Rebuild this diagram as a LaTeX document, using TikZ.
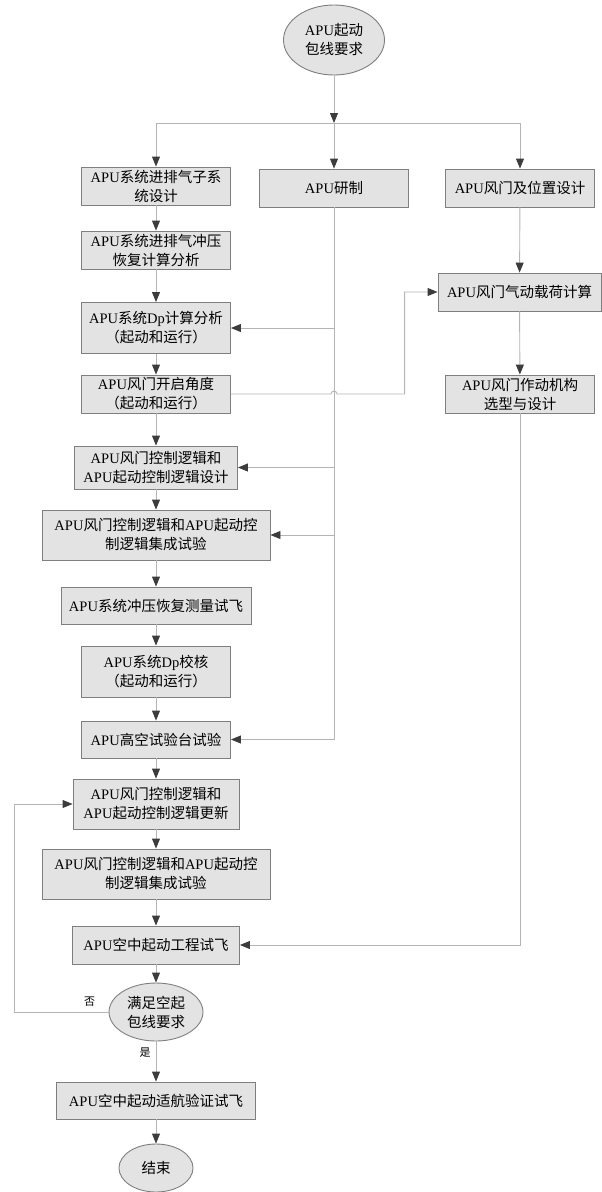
\documentclass[tikz,border=0pt]{standalone}
\usepackage{fontspec}
\setmainfont{Noto Sans CJK SC}
\newfontfamily\latin{Liberation Serif}
\usepackage{tikz}
\usetikzlibrary{shapes.geometric}
\usetikzlibrary{positioning}
\usetikzlibrary{arrows.meta}
\usetikzlibrary{calc}
\definecolor{boxfill}{HTML}{E3E3E3}
\definecolor{boxline}{HTML}{7F7F7F}
\definecolor{wire}{HTML}{B4B4B4}
\definecolor{tipgray}{HTML}{3C3C3C}
\newcommand{\apu}{{\latin APU}}

\begin{document}
\begin{tikzpicture}[
                    x=1pt, y=-1pt,
                    every node/.style={align=center, inner sep=0pt, font=\fontsize{14.5}{19}\selectfont},
                    stage/.style={rectangle, draw=boxline, line width=0.9pt, fill=boxfill, minimum width=149pt, minimum height=38pt},
                    oval/.style={ellipse, draw=boxline, line width=0.9pt, fill=boxfill},
                    note/.style={font=\fontsize{11}{13}\selectfont},
                    link/.style={draw=wire, line width=0.9pt},
                    flow/.style={link, -{Triangle[length=10pt, width=8pt, color=tipgray]}}
                ]
                \useasboundingbox (0,0) rectangle (602,1192);
                \node[oval, minimum width=101pt, minimum height=70pt] (start) at (334,40) {\apu 起动\\包线要求};
                \coordinate (split) at (334,123);
                \node[stage] (sub) at (156,186) {\apu 系统进排气子系\\统设计};
                \node[stage] (dev) at (334,188) {\apu 研制};
                \node[stage] (door) at (520,188) {\apu 风门及位置设计};
                \node[stage] (ram) at (156,250) {\apu 系统进排气冲压\\恢复计算分析};
                \node[stage, minimum width=163pt] (load) at (519.5,292) {\apu 风门气动载荷计算};
                \node[stage, minimum height=51pt] (dp) at (156,328) {\apu 系统{\latin Dp}计算分析\\（起动和运行）};
                \node[stage] (angle) at (156,394) {\apu 风门开启角度\\（起动和运行）};
                \node[stage] (act) at (520,394) {\apu 风门作动机构\\选型与设计};
                \node[stage, minimum width=163pt, minimum height=43pt] (logic) at (156,467.5) {\apu 风门控制逻辑和\\\apu 起动控制逻辑设计};
                \node[stage, minimum width=228pt, minimum height=50pt] (integ) at (156,535) {\apu 风门控制逻辑和\apu 起动控\\制逻辑集成试验};
                \node[stage, minimum width=190pt, minimum height=37pt] (ramfly) at (156,605.5) {\apu 系统冲压恢复测量试飞};
                \node[stage, minimum height=51pt] (dpchk) at (156,671.5) {\apu 系统{\latin Dp}校核\\（起动和运行）};
                \node[stage, minimum height=37pt] (alt) at (156,739.5) {\apu 高空试验台试验};
                \node[stage, minimum width=166pt, minimum height=50pt] (update) at (156,804) {\apu 风门控制逻辑和\\\apu 起动控制逻辑更新};
                \node[stage, minimum width=228pt, minimum height=50pt] (integb) at (156,874) {\apu 风门控制逻辑和\apu 起动控\\制逻辑集成试验};
                \node[stage, minimum width=167pt] (engfly) at (156,945) {\apu 空中起动工程试飞};
                \node[oval, minimum width=94pt, minimum height=58pt] (check) at (156,1012) {满足空起\\包线要求};
                \coordinate (back) at (14,1012);
                \node[stage, minimum width=199pt, minimum height=37pt] (cert) at (156,1100.5) {\apu 空中起动适航验证试飞};
                \node[oval, minimum width=74pt, minimum height=48pt] (finish) at (156,1168) {结束};

                \draw[flow] (start) -- (split);
                \draw[flow] (split) -| (sub);
                \draw[flow] (split) -- (dev);
                \draw[flow] (split) -| (door);
                \draw[flow] (sub) -- (ram);
                \draw[flow] (ram) -- (dp);
                \draw[flow] (dp) -- (angle);
                \draw[flow] (angle) -- (logic);
                \draw[flow] (logic) -- (integ);
                \draw[flow] (integ) -- (ramfly);
                \draw[flow] (ramfly) -- (dpchk);
                \draw[flow] (dpchk) -- (alt);
                \draw[flow] (alt) -- (update);
                \draw[flow] (update) -- (integb);
                \draw[flow] (integb) -- (engfly);
                \draw[flow] (engfly) -- (check);
                \draw[flow] (check) -- node[note, left=5pt, pos=0.27] (yes) {是} (cert);
                \draw[flow] (cert) -- (finish);
                \draw[flow] (check) -- node[note, above=5pt, pos=0.2] (no) {否} (back) |- (update);
                \draw[flow] (dev) |- (alt);
                \draw[flow] (dev |- dp) -- (dp);
                \draw[flow] (dev |- logic) -- (logic);
                \draw[flow] (dev |- integ) -- (integ);
                \draw[flow] (door) -- (load);
                \draw[flow] (load) -- (act);
                \draw[flow] (act) |- (engfly);
                \draw[flow] (angle) -- ($(dev |- angle)+(-3,0)$) to[out=90, in=90, looseness=1.6] ($(dev |- angle)+(3,0)$) -- ($(load.west |- angle)+(-33,0)$) |- (load);
            \end{tikzpicture}
\end{document}
